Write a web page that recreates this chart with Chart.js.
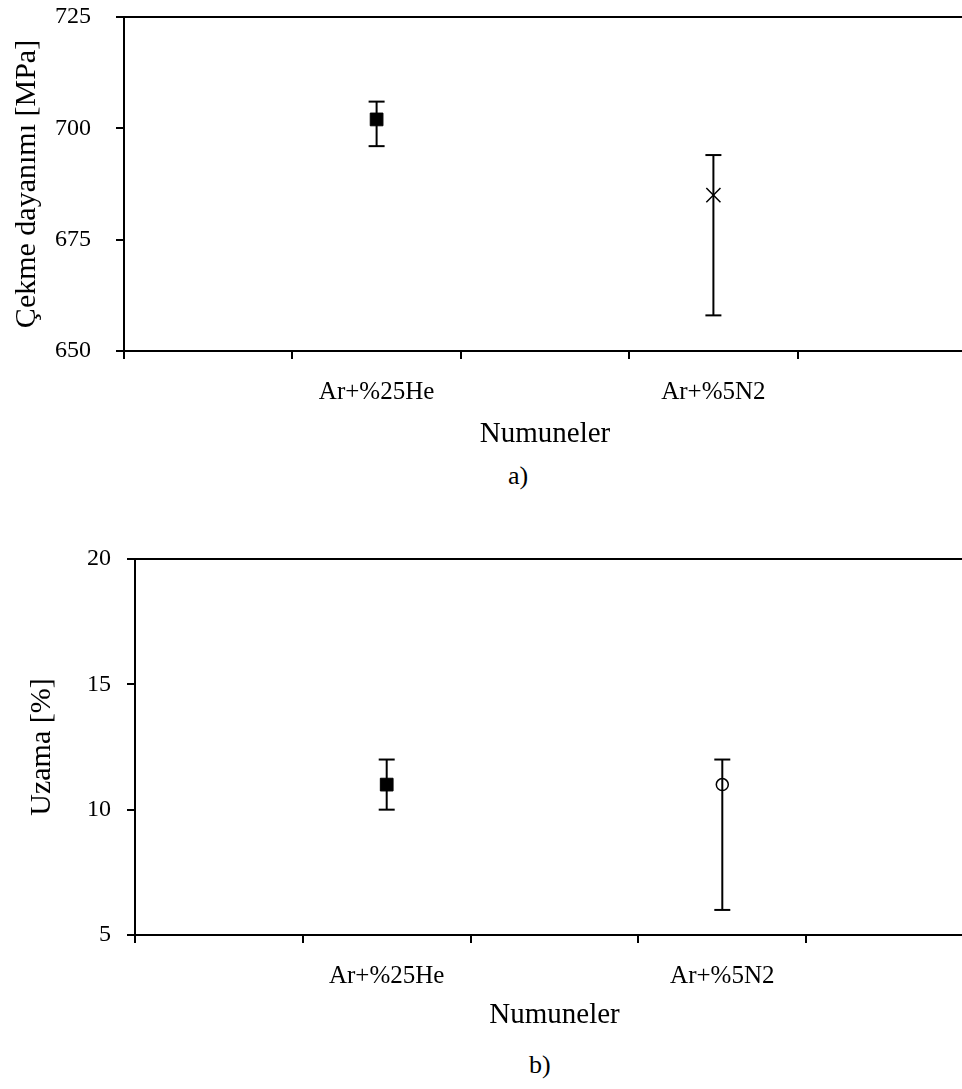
<!DOCTYPE html>
<html>
<head>
<meta charset="utf-8">
<script src="https://cdn.jsdelivr.net/npm/chart.js@4"></script>
<style>
  body { margin: 0; background: #fff; overflow: hidden; width: 962px; height: 1089px; position: relative; }
  canvas { position: absolute; left: 0; }
  .cap { position: absolute; font-family: "Liberation Serif", serif; font-size: 26px; color: #000; }
</style>
</head>
<body>
<canvas id="chartA" width="966" height="460" style="top:0"></canvas>
<div class="cap" style="left:508px; top:461px;">a)</div>
<canvas id="chartB" width="974" height="505" style="top:530px"></canvas>
<div class="cap" style="left:529px; top:1050px;">b)</div>
<script>
// x slots: labels only under slots 2 and 4
var categories = ['', 'Ar+%25He', '', 'Ar+%5N2', ''];
var samples = ['Ar+%25He', 'Ar+%5N2'];

// a) Çekme dayanımı
var tensileMean = [702, 685];
var tensileLow = [696, 658];
var tensileHigh = [706, 694];
var tensileTicks = [650, 675, 700, 725];

// b) Uzama
var elongMean = [11, 11];
var elongLow = [10, 6];
var elongHigh = [12, 12];
var elongTicks = [5, 10, 15, 20];

var serif = '"Liberation Serif", "Times New Roman", serif';

function errorSets(low, high) {
    // one small line dataset per sample, caps drawn with the 'line' point style
    return samples.map(function (s, i) {
        return {
            data: [{ x: s, y: low[i] }, { x: s, y: high[i] }],
            showLine: true,
            borderColor: '#000',
            borderWidth: 2,
            pointStyle: 'line',
            pointRadius: 8,
            pointBorderWidth: 2,
            pointBorderColor: '#000'
        };
    });
}

function makeChart(id, cfg) {
    var ctx = document.getElementById(id).getContext('2d');
    var ticks = cfg.ticks;
    var top = ticks[ticks.length - 1];
    var datasets = errorSets(cfg.low, cfg.high);
    datasets.push({
        data: samples.map(function (s, i) { return { x: s, y: cfg.mean[i] }; }),
        showLine: false,
        pointStyle: cfg.styles,
        pointRadius: cfg.radius,
        pointBackgroundColor: cfg.fill,
        pointBorderColor: '#000',
        pointBorderWidth: cfg.markBorder
    });
    return new Chart(ctx, {
        type: 'line',
        data: { labels: categories, datasets: datasets },
        options: {
            responsive: false,
            animation: false,
            devicePixelRatio: 1,
            layout: { autoPadding: false, padding: { top: cfg.padTop, left: 0, right: 0, bottom: 0 } },
            plugins: { legend: { display: false }, tooltip: { enabled: false } },
            scales: {
                x: {
                    type: 'category',
                    offset: true,
                    border: { color: '#000', width: 2 },
                    grid: { offset: true, drawOnChartArea: false, tickLength: 8, color: '#000', tickColor: '#000', lineWidth: 2 },
                    ticks: { autoSkip: false, maxRotation: 0, color: '#000', font: { family: serif, size: 25 }, padding: 18 },
                    title: { display: true, text: 'Numuneler', color: '#000', font: { family: serif, size: 29 }, padding: { top: 0, bottom: cfg.xTitlePad } },
                    afterFit: function (s) { s.height = cfg.xHeight; }
                },
                y: {
                    min: ticks[0],
                    max: top,
                    afterBuildTicks: function (s) { s.ticks = ticks.map(function (v) { return { value: v }; }); },
                    border: { color: '#000', width: 2 },
                    grid: {
                        tickLength: 8,
                        lineWidth: 2,
                        tickColor: '#000',
                        color: function (c) { return c.tick && c.tick.value === top ? '#000' : 'rgba(0,0,0,0)'; }
                    },
                    ticks: { color: '#000', font: { family: serif, size: 24 }, padding: cfg.yTickPad },
                    title: { display: true, text: cfg.yTitle, color: '#000', font: { family: serif, size: 30 }, padding: { top: cfg.yTitlePad, bottom: 0 } },
                    afterFit: function (s) {
                        s.width = cfg.yWidth;
                        // plot top is set by layout padding only
                        s.paddingTop = 0;
                        s.paddingBottom = 0;
                    }
                }
            }
        }
    });
}

var chartA = makeChart('chartA', {
    ticks: tensileTicks, mean: tensileMean, low: tensileLow, high: tensileHigh,
    styles: ['rect', 'crossRot'], radius: [9, 10], fill: ['#000', '#000'], markBorder: [1, 1.5],
    yTitle: 'Çekme dayanımı [MPa]', padTop: 17, yWidth: 124, xHeight: 109,
    yTickPad: 25, yTitlePad: 9, xTitlePad: 8
});

var chartB = makeChart('chartB', {
    ticks: elongTicks, mean: elongMean, low: elongLow, high: elongHigh,
    styles: ['rect', 'circle'], radius: [9, 6], fill: ['#000', '#fff'], markBorder: [1, 1.5],
    yTitle: 'Uzama [%]', padTop: 29, yWidth: 135, xHeight: 100,
    yTickPad: 16, yTitlePad: 24, xTitlePad: 2
});
</script>
</body>
</html>
